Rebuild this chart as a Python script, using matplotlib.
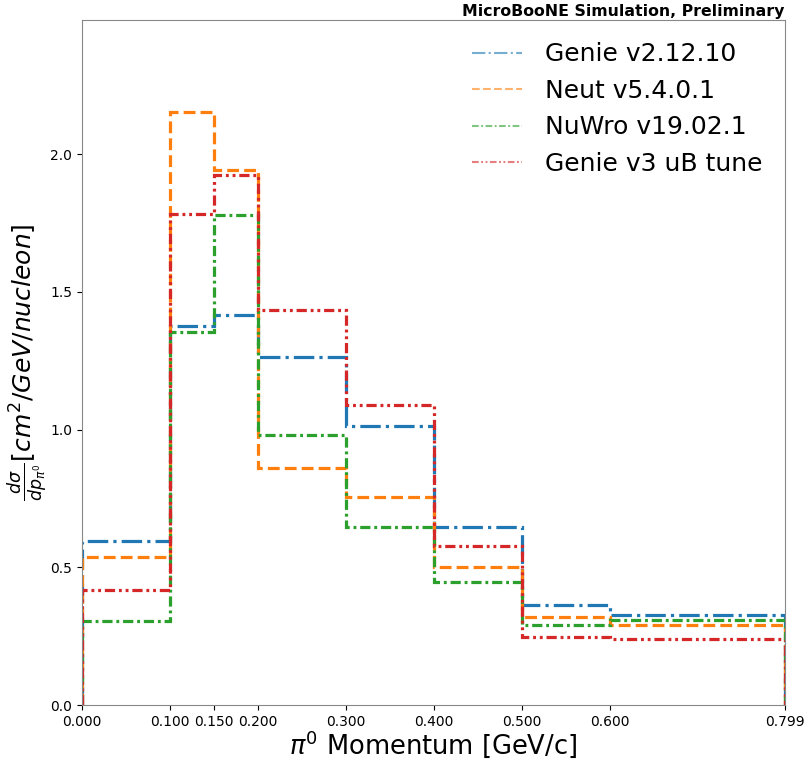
import matplotlib
matplotlib.use("Agg")
import matplotlib.pyplot as plt
from matplotlib.lines import Line2D
import numpy as np

bin_edges = [0.0, 0.1, 0.15, 0.2, 0.3, 0.4, 0.5, 0.6, 0.799]
tick_labels = ["0.000", "0.100", "0.150", "0.200", "0.300", "0.400", "0.500", "0.600", "0.799"]

genie_v2 = [0.596, 1.377, 1.417, 1.265, 1.015, 0.647, 0.364, 0.326]
neut = [0.537, 2.154, 1.943, 0.862, 0.755, 0.500, 0.321, 0.292]
nuwro = [0.304, 1.356, 1.778, 0.979, 0.645, 0.446, 0.290, 0.307]
genie_v3 = [0.416, 1.782, 1.924, 1.435, 1.090, 0.577, 0.248, 0.239]

labels = ["Genie v2.12.10", "Neut v5.4.0.1", "NuWro v19.02.1", "Genie v3 uB tune"]
colors = ["#1f77b4", "#ff7f0e", "#2ca02c", "#d62728"]
styles = ["-.", "--", (0, (3.2, 1.2, 0.9, 1.2)), (0, (3.2, 1.2, 0.9, 1.2, 0.9, 1.2))]

fig = plt.figure(figsize=(8.09, 7.62), dpi=100)
ax = fig.add_axes([0.101, 0.0748, 0.869, 0.899])

edges = np.array(bin_edges)
centers = 0.5 * (edges[:-1] + edges[1:])
series = [genie_v2, neut, nuwro, genie_v3]
for vals, c, ls in zip(series, colors, styles):
    ax.hist(centers, bins=edges, weights=vals, histtype="step", color=c,
            linestyle=ls, linewidth=2.3)

ax.set_xlim(edges[0], edges[-1])
ax.set_ylim(0, max(neut) * 1.155)
ax.set_xticks(edges)
ax.set_xticklabels(tick_labels, fontsize=10)
ax.set_yticks([0.0, 0.5, 1.0, 1.5, 2.0])
ax.set_yticklabels(["0.0", "0.5", "1.0", "1.5", "2.0"], fontsize=10)
for s in ax.spines.values():
    s.set_color("#888888")

ax.set_xlabel(r"$\pi^0$ Momentum [GeV/c]", fontsize=18.5, labelpad=0)
ax.set_ylabel(r"$\frac{d\sigma}{dp_{\pi^0}}[cm^2/GeV/nucleon]$", fontsize=18, labelpad=0)
ax.set_title("MicroBooNE Simulation, Preliminary", loc="right", fontweight="bold",
             fontsize=11.3, pad=3)

handles = [Line2D([], [], color=c, linestyle=ls, linewidth=1.5, alpha=0.6)
           for c, ls in zip(colors, styles)]
ax.legend(handles, labels, loc="upper right", fontsize=18, frameon=False,
          handlelength=2.0, handletextpad=0.9)

fig.savefig("out.png", dpi=100)
